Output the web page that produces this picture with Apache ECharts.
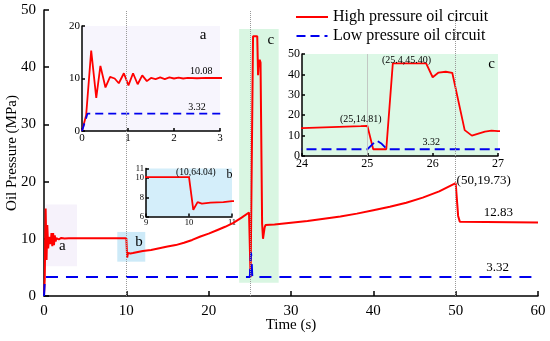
<!DOCTYPE html>
<html><head><meta charset="utf-8">
<script src="https://cdn.jsdelivr.net/npm/echarts@6/dist/echarts.min.js"></script>
<style>html,body{margin:0;padding:0;background:#fff}#c{width:550px;height:341px}</style>
</head><body><div id="c"></div>
<script>
// ---- data ----
const seriesNames = ['High pressure oil circuit', 'Low pressure oil circuit'];
const hpTime = [0,0.09,0.2,0.31,0.4,0.51,0.61,0.71,0.8,0.91,1.01,1.11,1.21,1.31,1.41,1.5,1.6,1.7,1.8,1.9,2.0,2.1,2.2,2.3,2.5,2.7,3,
  10.0,10.1,10.2,10.3,10.5,10.8,11,12,13,14,15,16,17,18,19,20,21,22,23,24,24.9,
  25,25.09,25.29,25.39,25.9,26.0,26.09,26.2,26.3,26.49,26.6,26.8,26.9,27,
  28,30,32,34,36,38,40,42,44,46,48,50,50.3,50.5,50.7,60];
const hpValue = [0,3.0,15.3,6.3,12.4,8.3,10.3,10.0,9.1,11.0,8.7,11.0,8.9,10.6,9.5,10.1,9.9,10.2,9.9,10.2,10.0,10.15,10.0,10.1,10.05,10.1,10.1,
  10.1,6.7,7.5,7.35,7.45,7.5,7.6,7.85,8.05,8.35,8.65,8.9,9.3,9.8,10.4,10.9,11.5,12.1,12.8,13.7,14.6,
  14.81,3.3,3.3,45.4,45.4,38.6,40.9,41.3,40.8,12.7,10.0,12.0,12.4,12.2,
  12.5,12.8,13.1,13.5,13.9,14.4,15.0,15.6,16.3,17.2,18.3,19.73,14.0,13.0,12.83,12.83];
const lpTime = [0,0.12,25.0,25.14,25.22,25.3,60];
const lpValue = [0,3.32,3.32,7.6,6.0,3.32,3.32];
const markerTimes = [10,25,50];
// annotations
const annText = ['a','b','c','(50,19.73)','12.83','3.32','a','10.08','3.32','(10,64.04)','b','(25,14.81)','(25.4,45.40)','3.32','c'];
const annX = [2.22,11.54,27.54,53.4,55.18,55.1, 2.63,2.59,2.5, 10.16,10.94, 24.9,25.6,25.98,26.9];
const annY = [8.79,9.49,44.69,20.16,14.63,5.02, 18.3,11.43,4.5, 10.63,10.34, 18.0,47.05,6.9,45.1];
const annGrid = [0,0,0,0,0,0, 1,1,1, 2,2, 3,3,3,3];
const annSize = [15,15,15,13,13,13, 15,10,10, 9.5,12, 10,10,10,15];

// ---- build ----
const hp = hpTime.map((t,i)=>[t,hpValue[i]]);
const lp = lpTime.map((t,i)=>[t,lpValue[i]]);
const FF = 'Liberation Serif';
const RED = '#ff0000', BLUE = '#0000ee';

function ax(grid, min, max, interval, size, opts){
  return Object.assign({type:'value', gridIndex:grid, min, max, interval,
    axisLine:{show:true, onZero:false, lineStyle:{color:'#000', width:1.5}},
    axisTick:{show:true, inside:true, length:grid===0?5:3, lineStyle:{color:'#000', width:1.5}},
    axisLabel:{color:'#000', fontFamily:FF, fontSize:size, margin:grid===0?8:2},
    splitLine:{show:false}}, opts||{});
}
const chart = echarts.init(document.getElementById('c'), null, {renderer:'canvas'});
const option = {
  animation:false,
  backgroundColor:'#fff',
  textStyle:{fontFamily:FF},
  legend:{
    data:[
      {name:seriesNames[0], icon:'path://M0,0H32V2H0Z'},
      {name:seriesNames[1], icon:'path://M0,0H9V2H0ZM14,0H23V2H14ZM28,0H31V2H28Z'}
    ],
    orient:'vertical', left:291, top:4, itemWidth:32, itemHeight:2, itemGap:3,
    textStyle:{fontFamily:FF, fontSize:16, color:'#000'}
  },
  grid:[
    {left:44, right:12, top:10, bottom:45, outerBoundsMode:'none'},
    {left:82, top:26, width:138, height:105, show:true, backgroundColor:'#f7f5fd', borderWidth:0, outerBoundsMode:'none'},
    {left:146, top:168.5, width:86, height:48, show:true, backgroundColor:'#d4eefa', borderWidth:0, outerBoundsMode:'none'},
    {left:302, top:54, width:196, height:102, show:true, backgroundColor:'#dcf8e6', borderWidth:0, outerBoundsMode:'none'}
  ],
  xAxis:[
    ax(0,0,60,10,15,{name:'Time (s)', nameLocation:'middle', nameGap:22, nameMoveOverlap:false, nameTextStyle:{fontFamily:FF, fontSize:15, color:'#000'}}),
    ax(1,0,3,1,11),
    ax(2,9,11,1,8.5),
    ax(3,24,27,1,12)
  ],
  yAxis:[
    ax(0,0,50,10,15,{name:'Oil Pressure (MPa)', nameLocation:'middle', nameGap:24, nameMoveOverlap:false, nameRotate:90, nameTextStyle:{fontFamily:FF, fontSize:15, color:'#000'}}),
    ax(1,0,20,10,11),
    ax(2,6,11,2,8.5),
    ax(3,0,50,10,12)
  ],
  series:[
    {name:seriesNames[0], type:'line', xAxisIndex:0, yAxisIndex:0, data:hp, showSymbol:false, symbol:'none',
      lineStyle:{color:RED, width:2}, itemStyle:{color:RED},
      markArea:{silent:true, data:[
        [{xAxis:0.2, yAxis:16, itemStyle:{color:'#f6f2fb'}},{xAxis:4, yAxis:5.2}],
        [{xAxis:8.9, yAxis:11.2, itemStyle:{color:'#cdeaf8'}},{xAxis:12.3, yAxis:6.0}],
        [{xAxis:23.7, yAxis:46.7, itemStyle:{color:'#d9f6e2'}},{xAxis:28.5, yAxis:2.3}]
      ]},
      markLine:{silent:true, symbol:'none', label:{show:false},
        lineStyle:{type:'dotted', color:'#999', width:1},
        data:markerTimes.map(t=>({xAxis:t}))}
    },
    {name:seriesNames[1], type:'line', xAxisIndex:0, yAxisIndex:0, data:lp, showSymbol:false, symbol:'none',
      lineStyle:{color:BLUE, width:2, type:[12,8]}, itemStyle:{color:BLUE}},
    {name:seriesNames[0], type:'line', xAxisIndex:1, yAxisIndex:1, data:hp, showSymbol:false, symbol:'none',
      lineStyle:{color:RED, width:1.8}, itemStyle:{color:RED}},
    {name:seriesNames[1], type:'line', xAxisIndex:1, yAxisIndex:1, data:lp, showSymbol:false, symbol:'none',
      lineStyle:{color:BLUE, width:1.8, type:[8,5]}, itemStyle:{color:BLUE}},
    {name:seriesNames[0], type:'line', xAxisIndex:2, yAxisIndex:2, data:hp, showSymbol:false, symbol:'none',
      lineStyle:{color:RED, width:1.8}, itemStyle:{color:RED}},
    {name:seriesNames[0], type:'line', xAxisIndex:3, yAxisIndex:3, data:hp, showSymbol:false, symbol:'none',
      lineStyle:{color:RED, width:1.8}, itemStyle:{color:RED},
      markLine:{silent:true, symbol:'none', label:{show:false}, lineStyle:{type:'solid', color:'#bbb', width:0.8},
        data:[{xAxis:25}]}},
    {name:seriesNames[1], type:'line', xAxisIndex:3, yAxisIndex:3, data:lp, showSymbol:false, symbol:'none',
      lineStyle:{color:BLUE, width:1.8, type:[10,5]}, itemStyle:{color:BLUE}}
  ]
};
chart.setOption(option);
const texts = annText.map((txt,i)=>{
  const p = chart.convertToPixel({gridIndex:annGrid[i]}, [annX[i], annY[i]]);
  return {type:'text', x:p[0], y:p[1], z:100, silent:true,
    style:{text:txt, fill:'#000', font:annSize[i]+'px "'+FF+'"', align:'center', verticalAlign:'middle'}};
});
chart.setOption({graphic:texts});
</script></body></html>
